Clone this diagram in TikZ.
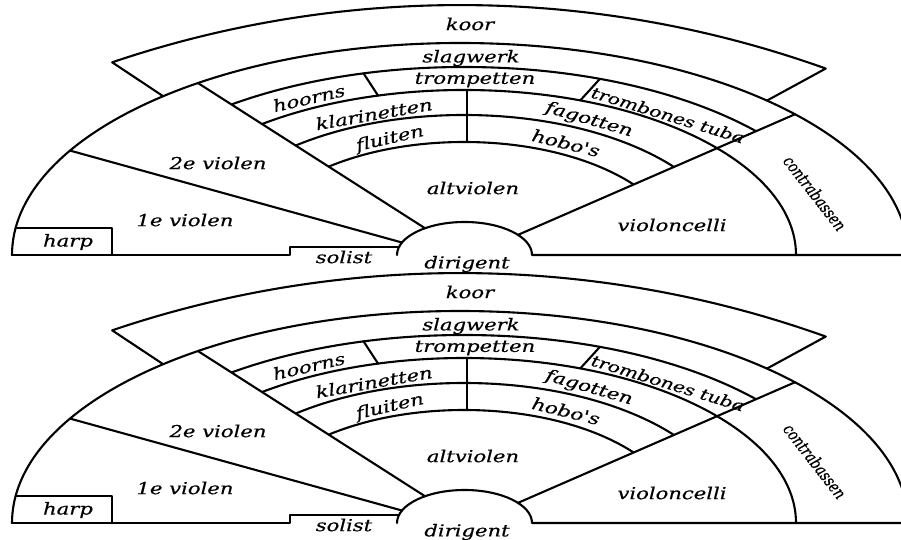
\documentclass[tikz,border=0pt]{standalone}
\usepackage{fontspec}
\newfontfamily\lblfont{DejaVu Serif}[FakeStretch=1.28, FakeBold=0.5]
\newfontfamily\lblnarrow{DejaVu Serif}[FakeStretch=0.78, FakeBold=0.6]
\usetikzlibrary{calc}
\tikzset{
  ln/.style={line width=2.1pt, line join=round, line cap=round},
  lbl/.style={font=\lblfont\itshape\fontsize{16.5}{18}\selectfont, inner sep=0pt},
  lblsmall/.style={font=\lblnarrow\itshape\fontsize{17}{19}\selectfont, inner sep=0pt},
}
\begin{document}
\begin{tikzpicture}[x=1pt,y=1pt]
\clip (0,-285) rectangle (901,255);
\fill[white] (0,-285) rectangle (901,255);
\foreach \pre/\sh in {t/0,b/-268}{
\begin{scope}[yshift=\sh pt, name prefix=\pre-]
  % centres
  \coordinate (C1) at (460,0);
  \coordinate (C) at (464,0);
  \coordinate (D) at (464.5,0);
  \coordinate (KC) at (460,-835);
  % key points
  \coordinate (K1) at ($(KC)+(108.7:1085)$);
  \coordinate (E1kl) at ($(C1)+(131.5:448 and 212)$);
  \coordinate (E1kr) at ($(C1)+(46.75:448 and 212)$);
  \coordinate (E1rl) at ($(C1)+(125.8:448 and 212)$);
  \coordinate (E1rr) at ($(C1)+(41.6:448 and 212)$);
  \coordinate (E1v) at ($(C1)+(150.5:448 and 212)$);
  \coordinate (Drl) at ($(D)+(125.8:67.5 and 33)$);
  \coordinate (Drr) at ($(D)+(37.6:67.5 and 33)$);
  \coordinate (Dv) at ($(D)+(157.8:67.5 and 33)$);
  \coordinate (H2) at ($(C)+(105:388 and 188)$);
  \coordinate (H3) at ($(C)+(105:332 and 165)$);
  \coordinate (T2) at ($(C)+(69.5:388 and 188)$);
  \coordinate (T3) at ($(C)+(69.5:332 and 165)$);
  % koor
  \draw[ln] (E1kl) -- (K1) arc[start angle=108.7, end angle=70.3, radius=1085] -- (E1kr);
  % outer arc
  \draw[ln] (12,0) arc[start angle=180, end angle=0, x radius=448, y radius=212];
  % base line, solist, harp
  \draw[ln] (12,0) -- (290,0) -- (290,8) -- (399,8);
  \draw[ln] (15.6,27) -- (112,27) -- (112,0);
  % dirigent
  \draw[ln] (397,0) arc[start angle=180, end angle=0, x radius=67.5, y radius=33] -- (910,0);
  % radial lines
  \draw[ln] (E1rl) -- (Drl);
  \draw[ln] (E1rr) -- (Drr);
  \draw[ln] (E1v) -- (Dv);
  % wind arcs
  \begin{scope}
    \clip (Drl) -- ($(Drl)!2.5!(E1rl)$) -- ($(Drr)!2.5!(E1rr)$) -- (Drr) -- cycle;
    \draw[ln] (76,0) arc[start angle=180, end angle=0, x radius=388, y radius=188];
    \draw[ln] (194,0) arc[start angle=180, end angle=0, x radius=270, y radius=140];
    \draw[ln] (247,0) arc[start angle=180, end angle=0, x radius=217, y radius=113];
  \end{scope}
  \begin{scope}
    \clip (Drl) -- ($(Drl)!2.5!(E1rl)$) -- (1000,400) -- (1000,-10) -- (425,-10) -- cycle;
    \draw[ln] (132,0) arc[start angle=180, end angle=0, x radius=332, y radius=165];
  \end{scope}
  % dividers
  \draw[ln] (H2) -- (H3);
  \draw[ln] (T2) -- (T3);
  \draw[ln] (467,165) -- (467,113);
  % labels
  \node[lbl] (koor) at (470,231) {koor};
  \node[lbl] (slagwerk) at (471,197) {slagwerk};
  \node[lbl] (trompetten) at (475,175) {trompetten};
  \node[lbl, rotate=13] (hoorns) at (309,157) {hoorns};
  \node[lbl, rotate=10] (klarinetten) at (374,141) {klarinetten};
  \node[lbl, rotate=13] (fluiten) at (390,116) {fluiten};
  \node[lbl, rotate=-16] (fagotten) at (589,135) {fagotten};
  \node[lbl, rotate=-14] (hobos) at (566,112) {hobo's};
  \node[lbl, rotate=-17, font=\lblfont\itshape\fontsize{15.5}{17}\selectfont] (trombones) at (668,140) {trombones tuba};
  \node[lbl] (altviolen) at (473,67) {altviolen};
  \node[lbl] (violen2) at (218,92) {2e violen};
  \node[lbl] (violen1) at (185,35) {1e violen};
  \node[lbl] (harp) at (68,13) {harp};
  \node[lbl] (solist) at (344,-2) {solist};
  \node[lbl] (dirigent) at (467,-9) {dirigent};
  \node[lbl] (violoncelli) at (672,30) {violoncelli};
  \node[lblsmall, rotate=-52] (contrabassen) at (815,62) {contrabassen};
\end{scope}
}
\end{tikzpicture}
\end{document}
